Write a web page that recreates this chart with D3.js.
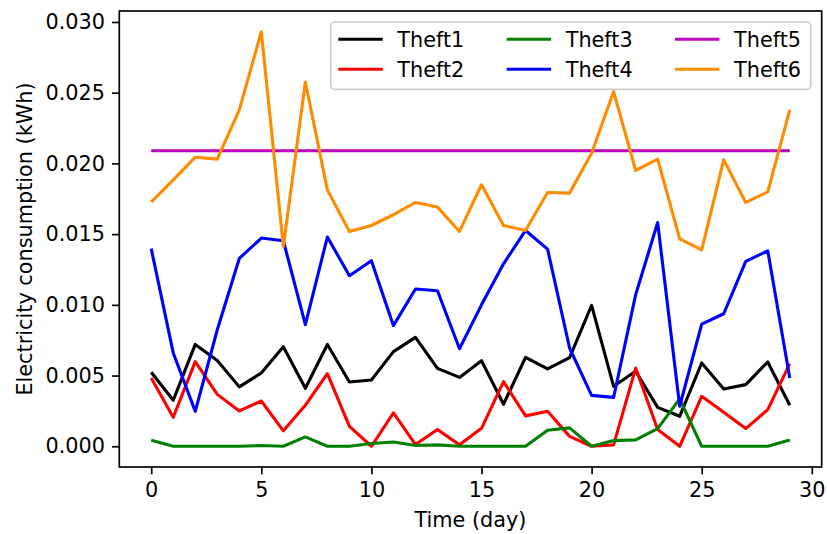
<!DOCTYPE html>
<html>
<head>
<meta charset="utf-8">
<script src="https://cdn.jsdelivr.net/npm/d3@7"></script>
<style>
  body { margin: 0; background: #fff; }
  svg { font-family: "DejaVu Sans", sans-serif; }
</style>
</head>
<body>
<div id="chart"></div>
<script>
// chart data
var days = d3.range(0, 30);
var seriesNames = ["Theft1", "Theft2", "Theft3", "Theft4", "Theft5", "Theft6"];
var seriesColors = ["#000000", "#ff0000", "#008000", "#0000ff", "#bf00bf", "#ff8c00"];

var theft1 = [0.00523, 0.00325, 0.0072, 0.00607, 0.0042, 0.00518, 0.00704, 0.0041, 0.0072, 0.00455,
    0.00469, 0.00669, 0.0077, 0.00551, 0.00487, 0.00605, 0.00297, 0.00629, 0.00547, 0.00627,
    0.00996, 0.00424, 0.0053, 0.00275, 0.00212, 0.00589, 0.00405, 0.00436, 0.00596, 0.0029];
var theft2 = [0.00483, 0.00205, 0.00598, 0.00367, 0.0025, 0.0032, 0.00109, 0.0029, 0.00513, 0.00141,
    0.0, 0.00236, 0.00012, 0.00118, 0.0001, 0.00127, 0.00457, 0.00215, 0.00247, 0.0007,
    0.0, 0.0001, 0.00553, 0.00118, 0.0, 0.00353, 0.0024, 0.00125, 0.00259, 0.00584];
var theft3 = [0.00042, 0.0, 0.0, 0.0, 0.0, 0.00005, 0.0, 0.00066, 0.0, 0.0,
    0.0002, 0.0003, 0.00005, 0.0001, 0.0, 0.0, 0.0, 0.0, 0.00113, 0.0013,
    0.0, 0.0004, 0.00045, 0.00125, 0.00335, 0.0, 0.0, 0.0, 0.0, 0.00045];
var theft4 = [0.01397, 0.0066, 0.00247, 0.00824, 0.01328, 0.01472, 0.01453, 0.0086, 0.01479, 0.01206,
    0.01312, 0.00853, 0.01112, 0.011, 0.0069, 0.0100, 0.0129, 0.01526, 0.01394, 0.00695,
    0.0036, 0.00346, 0.01071, 0.01582, 0.00283, 0.00864, 0.00937, 0.01307, 0.01382, 0.00483];
var theft5 = days.map(function () { return 0.02089; });
var theft6 = [0.01726, 0.01884, 0.02044, 0.0203, 0.02378, 0.02931, 0.01413, 0.02576, 0.01813, 0.01519,
    0.01561, 0.01637, 0.01724, 0.01691, 0.01519, 0.01849, 0.01561, 0.01526, 0.01794, 0.0179,
    0.02072, 0.02508, 0.0195, 0.0203, 0.01467, 0.01389, 0.02025, 0.01724, 0.01799, 0.02378];

var xTicks = [0, 5, 10, 15, 20, 25, 30];
var yTicks = [0, 0.005, 0.01, 0.015, 0.02, 0.025, 0.03];

var allSeries = [theft1, theft2, theft3, theft4, theft5, theft6];

// svg size and margins
var svgWidth = 827;
var svgHeight = 534;
var margin = { top: 11, right: 5.3, bottom: 67, left: 119.3 };
var width = svgWidth - margin.left - margin.right;
var height = svgHeight - margin.top - margin.bottom;
var fontSize = 20.8;

var svg = d3.select("#chart")
    .append("svg")
    .attr("width", svgWidth)
    .attr("height", svgHeight);

var g = svg.append("g")
    .attr("transform", `translate(${margin.left}, ${margin.top})`);

// matplotlib style 5% padding on both axes
var xPad = (d3.max(days) - d3.min(days)) * 0.05;
var yMax = d3.max(allSeries, function (s) { return d3.max(s); });
var yMin = d3.min(allSeries, function (s) { return d3.min(s); });
var yPad = (yMax - yMin) * 0.05;

var x = d3.scaleLinear()
    .domain([d3.min(days) - xPad, d3.max(days) + xPad])
    .range([0, width]);
var y = d3.scaleLinear()
    .domain([yMin - yPad, yMax + yPad])
    .range([height, 0]);

// lines
var line = d3.line()
    .x(function (d, i) { return x(days[i]); })
    .y(function (d) { return y(d); });

allSeries.forEach(function (s, i) {
    g.append("path")
        .datum(s)
        .attr("d", line)
        .attr("fill", "none")
        .attr("stroke", seriesColors[i])
        .attr("stroke-width", 3.1)
        .attr("stroke-linejoin", "round")
        .attr("stroke-linecap", "butt");
});

// axes
var xAxis = d3.axisBottom(x)
    .tickValues(xTicks)
    .tickFormat(d3.format("d"))
    .tickSize(7.3)
    .tickPadding(7);
var yAxis = d3.axisLeft(y)
    .tickValues(yTicks)
    .tickFormat(d3.format(".3f"))
    .tickSize(7.3)
    .tickPadding(7);

var gx = g.append("g")
    .attr("transform", `translate(0, ${height})`)
    .call(xAxis);
var gy = g.append("g").call(yAxis);

[gx, gy].forEach(function (ax) {
    ax.select(".domain").remove();
    ax.selectAll(".tick line").attr("stroke", "#000").attr("stroke-width", 1.67);
    ax.selectAll(".tick text")
        .attr("fill", "#000")
        .style("font-size", fontSize + "px")
        .style("font-family", "DejaVu Sans");
});
gx.selectAll(".tick text").attr("dy", "0.76em");

// frame
g.append("rect")
    .attr("width", width)
    .attr("height", height)
    .attr("fill", "none")
    .attr("stroke", "#000")
    .attr("stroke-width", 1.67);

// axis labels
svg.append("text")
    .attr("x", margin.left + width / 2)
    .attr("y", 527)
    .attr("text-anchor", "middle")
    .style("font-size", fontSize + "px")
    .text("Time (day)");

svg.append("text")
    .attr("transform", `translate(32, ${margin.top + height / 2}) rotate(-90)`)
    .attr("text-anchor", "middle")
    .style("font-size", fontSize + "px")
    .text("Electricity consumption (kWh)");

// legend, 3 columns
var legend = svg.append("g");
legend.append("rect")
    .attr("x", 330.7)
    .attr("y", 22)
    .attr("width", 480)
    .attr("height", 67.3)
    .attr("rx", 4)
    .attr("fill", "#fff")
    .attr("fill-opacity", 0.8)
    .attr("stroke", "#cccccc")
    .attr("stroke-width", 1.67);

var colX = [338.3, 506.7, 675];
var rowY = [39.3, 69.3];
seriesNames.forEach(function (name, i) {
    var col = Math.floor(i / 2);
    var row = i % 2;
    var lx = colX[col];
    var ly = rowY[row];
    legend.append("line")
        .attr("x1", lx)
        .attr("x2", lx + 44.4)
        .attr("y1", ly)
        .attr("y2", ly)
        .attr("stroke", seriesColors[i])
        .attr("stroke-width", 3.1);
    legend.append("text")
        .attr("x", lx + 59)
        .attr("y", ly)
        .attr("dy", "0.36em")
        .style("font-size", fontSize + "px")
        .text(name);
});
</script>
</body>
</html>
